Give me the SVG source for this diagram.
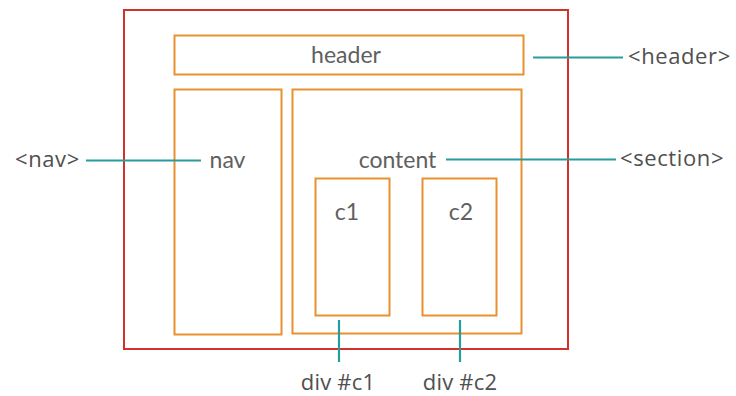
<svg xmlns="http://www.w3.org/2000/svg" width="736" height="396" viewBox="0 0 736 396">
<style>
.box{fill:none;stroke:#e8912e;stroke-width:2}
.outer{fill:none;stroke:#d2312c;stroke-width:2}
.conn{stroke:#2a9b9c;stroke-width:2.2;fill:none}
.in{font-family:Lato,"Open Sans",sans-serif;font-size:23px;fill:#606060}
.lab{font-family:"Open Sans","Liberation Sans",sans-serif;font-size:22px;fill:#505050;letter-spacing:0.6px}
.lab2{font-family:"Open Sans","Liberation Sans",sans-serif;font-size:22px;fill:#505050;letter-spacing:0.2px}
</style>
<rect width="736" height="396" fill="#fff"/>
<g id="page"><rect class="outer" x="124" y="10" width="444" height="339"/></g>
<g id="header"><rect class="box" x="174.5" y="35.5" width="349" height="39"/><text class="in" x="346" y="62.5" text-anchor="middle">header</text></g>
<g id="nav"><rect class="box" x="174.5" y="89.5" width="107" height="245"/><text class="in" x="227.5" y="167.5" text-anchor="middle">nav</text></g>
<g id="content"><rect class="box" x="292.5" y="89.5" width="229" height="244"/><text class="in" x="397.5" y="167.5" text-anchor="middle">content</text></g>
<g id="c1"><rect class="box" x="315.5" y="178.5" width="74" height="137"/><text class="in" x="347" y="220" text-anchor="middle">c1</text></g>
<g id="c2"><rect class="box" x="422.5" y="178.5" width="74" height="137"/><text class="in" x="461" y="220" text-anchor="middle">c2</text></g>
<g id="connectors">
<line class="conn" x1="533" y1="57.5" x2="623" y2="57.5"/>
<line class="conn" x1="86" y1="160.5" x2="201" y2="160.5"/>
<line class="conn" x1="446" y1="159.5" x2="616" y2="159.5"/>
<line class="conn" x1="339" y1="320" x2="339" y2="362"/>
<line class="conn" x1="460" y1="320" x2="460" y2="362"/>
</g>
<g id="labels">
<text class="lab" x="628" y="64">&lt;header&gt;</text>
<text class="lab" x="15" y="167">&lt;nav&gt;</text>
<text class="lab" x="620" y="166">&lt;section&gt;</text>
<text class="lab2" x="338" y="390" text-anchor="middle">div #c1</text>
<text class="lab2" x="460" y="390" text-anchor="middle">div #c2</text>
</g>
</svg>
